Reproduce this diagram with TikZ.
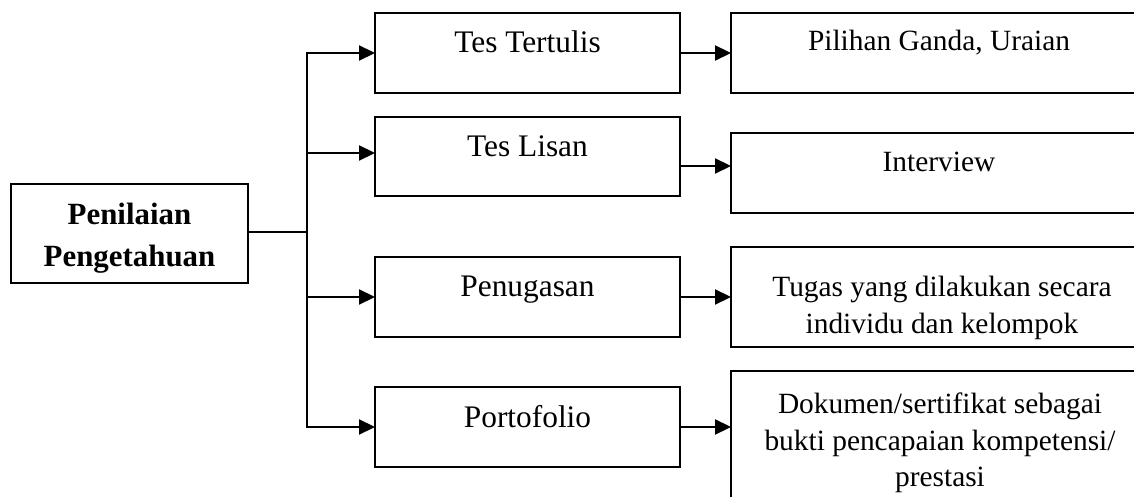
\documentclass[tikz,border=0pt]{standalone}
\usepackage{fontspec}
\setmainfont{Liberation Serif}
\usetikzlibrary{arrows.meta}
\begin{document}
\begin{tikzpicture}[x=1bp,y=-1bp,line width=2.2bp,
  box/.style={draw,line width=2.2bp,inner sep=0pt,outer sep=0pt,anchor=north west},
  midbox/.style={box,minimum width=305bp,minimum height=80bp},
  rbox/.style={box,minimum width=415bp},
  midtxt/.style={anchor=base,inner sep=0pt,font=\fontsize{31.5}{38}\selectfont},
  rtxt/.style={anchor=base,inner sep=0pt,font=\fontsize{29.5}{36}\selectfont},
  btxt/.style={anchor=base,inner sep=0pt,font=\fontsize{31}{38}\selectfont\bfseries},
  arr/.style={-{Triangle[length=16bp,width=15bp]},line width=2.2bp}]
\useasboundingbox (0,0) rectangle (1134,497);
% boxes
\node[box,minimum width=237bp,minimum height=99bp] (L) at (11,184) {};
\node[midbox] (T1) at (375,13) {};
\node[midbox,minimum height=79bp] (T2) at (375,117) {};
\node[midbox] (T3) at (375,257) {};
\node[midbox] (T4) at (375,387) {};
\node[rbox,minimum height=80bp] (R1) at (731,13) {};
\node[rbox,minimum height=80bp] (R2) at (731,133) {};
\node[rbox,minimum height=100bp] (R3) at (731,247) {};
\node[rbox,minimum height=160bp] (R4) at (731,371) {};
% texts
\node[btxt] (l1) at (129.5,225) {Penilaian};
\node[btxt] (l2) at (129.5,267) {Pengetahuan};
\node[midtxt] (t1) at (527.5,53) {Tes Tertulis};
\node[midtxt] (t2) at (527.5,157) {Tes Lisan};
\node[midtxt] (t3) at (527.5,297) {Penugasan};
\node[midtxt] (t4) at (527.5,427) {Portofolio};
\node[rtxt] (r1) at (939,51) {Pilihan Ganda, Uraian};
\node[rtxt] (r2) at (939,172) {Interview};
\node[rtxt] (r3a) at (942,297) {Tugas yang dilakukan secara};
\node[rtxt] (r3b) at (942,334) {individu dan kelompok};
\node[rtxt] (r4a) at (940,413) {Dokumen/sertifikat sebagai};
\node[rtxt] (r4b) at (940,450) {bukti pencapaian kompetensi/};
\node[rtxt] (r4c) at (940,486) {prestasi};
% trunk
\coordinate (j0) at (307,232);
\coordinate (j1) at (307,53);
\coordinate (j2) at (307,153);
\coordinate (j3) at (307,297);
\coordinate (j4) at (307,427);
\draw (L.east |- j0) -- (j0);
\draw[line cap=rect] (j1) -- (j4);
\draw[arr] (j1) -- (j1 -| T1.west);
\draw[arr] (j2) -- (j2 -| T2.west);
\draw[arr] (j3) -- (j3 -| T3.west);
\draw[arr] (j4) -- (j4 -| T4.west);
% outputs
\coordinate (o1) at (680,53);
\coordinate (o2) at (680,166);
\coordinate (o3) at (680,297);
\coordinate (o4) at (680,427);
\draw[arr] (o1 -| T1.east) -- (o1 -| R1.west);
\draw[arr] (o2 -| T2.east) -- (o2 -| R2.west);
\draw[arr] (o3 -| T3.east) -- (o3 -| R3.west);
\draw[arr] (o4 -| T4.east) -- (o4 -| R4.west);
\end{tikzpicture}
\end{document}
